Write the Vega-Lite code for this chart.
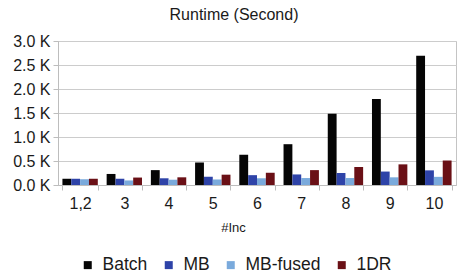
{
  "$schema": "https://vega.github.io/schema/vega-lite/v6.json",
  "width": 398,
  "height": 144,
  "autosize": "none",
  "padding": {"left": 58, "top": 41, "right": 5, "bottom": 93},
  "config": {
    "font": "Liberation Sans",
    "view": {"stroke": "#c4c4c4", "strokeWidth": 1},
    "axis": {"labelColor": "#1a1a1a", "titleColor": "#1a1a1a", "gridColor": "#cccccc", "domainColor": "#bdbdbd", "tickColor": "#bdbdbd"}
  },
  "title": {
    "text": "Runtime (Second)",
    "fontSize": 16,
    "fontWeight": "normal",
    "color": "#1a1a1a",
    "offset": 10,
    "dx": -23
  },
  "data": {
    "values": [
      {"inc": "1,2", "series": "Batch", "value": 130},
      {"inc": "1,2", "series": "MB", "value": 130},
      {"inc": "1,2", "series": "MB-fused", "value": 120},
      {"inc": "1,2", "series": "1DR", "value": 130},
      {"inc": "3", "series": "Batch", "value": 230},
      {"inc": "3", "series": "MB", "value": 130},
      {"inc": "3", "series": "MB-fused", "value": 95},
      {"inc": "3", "series": "1DR", "value": 155},
      {"inc": "4", "series": "Batch", "value": 310},
      {"inc": "4", "series": "MB", "value": 140},
      {"inc": "4", "series": "MB-fused", "value": 110},
      {"inc": "4", "series": "1DR", "value": 160},
      {"inc": "5", "series": "Batch", "value": 470},
      {"inc": "5", "series": "MB", "value": 170},
      {"inc": "5", "series": "MB-fused", "value": 115},
      {"inc": "5", "series": "1DR", "value": 215},
      {"inc": "6", "series": "Batch", "value": 630},
      {"inc": "6", "series": "MB", "value": 205},
      {"inc": "6", "series": "MB-fused", "value": 140},
      {"inc": "6", "series": "1DR", "value": 255},
      {"inc": "7", "series": "Batch", "value": 850},
      {"inc": "7", "series": "MB", "value": 220},
      {"inc": "7", "series": "MB-fused", "value": 145},
      {"inc": "7", "series": "1DR", "value": 310},
      {"inc": "8", "series": "Batch", "value": 1485},
      {"inc": "8", "series": "MB", "value": 250},
      {"inc": "8", "series": "MB-fused", "value": 145},
      {"inc": "8", "series": "1DR", "value": 375},
      {"inc": "9", "series": "Batch", "value": 1790},
      {"inc": "9", "series": "MB", "value": 280},
      {"inc": "9", "series": "MB-fused", "value": 160},
      {"inc": "9", "series": "1DR", "value": 430},
      {"inc": "10", "series": "Batch", "value": 2695},
      {"inc": "10", "series": "MB", "value": 305},
      {"inc": "10", "series": "MB-fused", "value": 170},
      {"inc": "10", "series": "1DR", "value": 510}
    ]
  },
  "mark": {"type": "bar"},
  "encoding": {
    "x": {
      "field": "inc",
      "type": "nominal",
      "sort": null,
      "scale": {"paddingInner": 0.2, "paddingOuter": 0.1},
      "axis": {
        "title": "#Inc",
        "titleFontSize": 13,
        "titleFontWeight": "normal",
        "titleX": 175,
        "titleY": 42,
        "titleBaseline": "middle",
        "labelAngle": 0,
        "labelFontSize": 16,
        "labelPadding": 5,
        "tickSize": 5,
        "tickBand": "extent",
        "grid": false,
        "domain": true
      }
    },
    "xOffset": {
      "field": "series",
      "type": "nominal",
      "sort": ["Batch", "MB", "MB-fused", "1DR"],
      "scale": {"paddingInner": 0, "paddingOuter": 0}
    },
    "y": {
      "field": "value",
      "type": "quantitative",
      "scale": {"domain": [0, 3000]},
      "axis": {
        "title": null,
        "values": [0, 500, 1000, 1500, 2000, 2500, 3000],
        "labelExpr": "format(datum.value / 1000, '.1f') + ' K'",
        "labelFontSize": 16,
        "labelPadding": 3,
        "tickSize": 5,
        "grid": true
      }
    },
    "color": {
      "field": "series",
      "type": "nominal",
      "sort": ["Batch", "MB", "MB-fused", "1DR"],
      "scale": {"domain": ["Batch", "MB", "MB-fused", "1DR"], "range": ["#050505", "#2e43a8", "#7aaadc", "#6a1016"]},
      "legend": {
        "title": null,
        "orient": "none",
        "direction": "horizontal",
        "legendX": 21,
        "legendY": 215,
        "symbolType": "square",
        "symbolSize": 64,
        "symbolStrokeWidth": 0,
        "labelFontSize": 17.5,
        "labelColor": "#1a1a1a",
        "labelOffset": 6,
        "columnPadding": 12
      }
    }
  }
}
